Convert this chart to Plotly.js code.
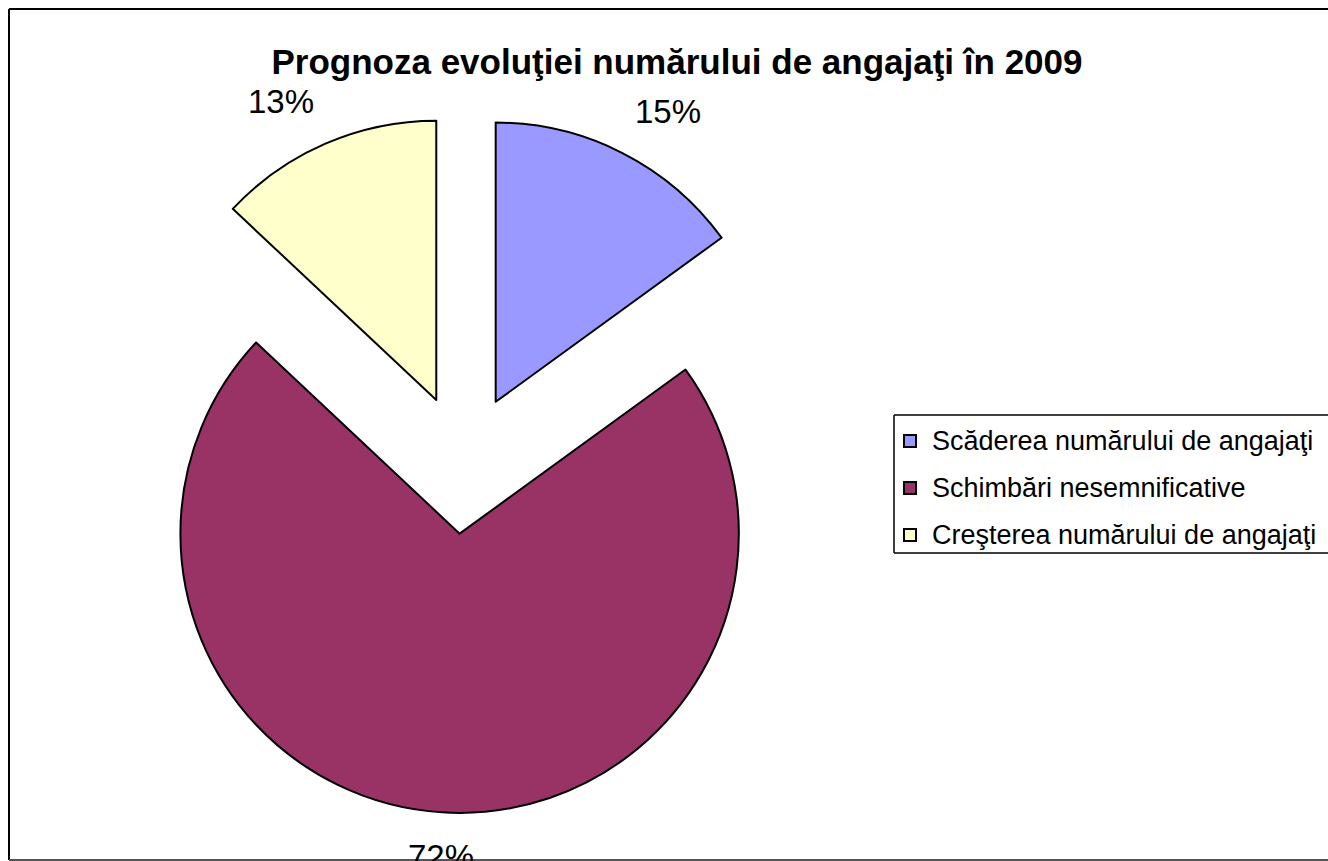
<!DOCTYPE html>
<html>
<head>
<meta charset="utf-8">
<script src="https://cdn.plot.ly/plotly-3.0.1.min.js"></script>
<style>html,body{margin:0;padding:0;background:#fff;overflow:hidden;}#chart{width:1328px;height:861px;}</style>
</head>
<body>
<div id="chart"></div>
<script>
const categories = ["Scăderea numărului de angajaţi", "Schimbări nesemnificative", "Creşterea numărului de angajaţi"];
const values = [15, 72, 13];
const colors = ["#9999FF", "#993366", "#FFFFCC"];
const chartTitle = "Prognoza evoluţiei numărului de angajaţi în 2009";

const W = 1328, H = 861;
const px = v => v / W;
const py = v => 1 - v / H;
const FONT = "Liberation Sans, Arial, sans-serif";

// pie geometry (pixels)
const dom = {x0: 115, x1: 813, y0: 115, y1: 813};
const pull = 0.25;
const R = Math.min(dom.x1 - dom.x0, dom.y1 - dom.y0) / (2 + 2 * pull);
const C = {x: (dom.x0 + dom.x1) / 2, y: (dom.y0 + dom.y1) / 2};
const labelGap = 24;

function seg(x0, y0, x1, y1, color, width) {
  return {type: "line", xref: "paper", yref: "paper", x0: px(x0), y0: py(y0), x1: px(x1), y1: py(y1),
    line: {color: color, width: width}, layer: "above"};
}

const shapes = [
  // outer chart frame (right side falls outside the visible area)
  seg(9, 9, 1340, 9, "#000", 2),
  seg(9, 9, 9, 860, "#000", 2),
  seg(9, 860, 1340, 860, "#555", 2),
  // legend box (cut at the right edge)
  seg(894, 415, 1340, 415, "#000", 1.5),
  seg(894, 415, 894, 553, "#000", 1.5),
  seg(894, 553, 1340, 553, "#000", 1.5)
];
const annotations = [];
const rowY = [441, 488, 535];
categories.forEach((c, i) => {
  shapes.push({type: "rect", xref: "paper", yref: "paper",
    x0: px(904), x1: px(916), y0: py(rowY[i] + 6), y1: py(rowY[i] - 6),
    line: {color: "#000", width: 2}, fillcolor: colors[i]});
  annotations.push({text: c, xref: "paper", yref: "paper", x: px(930), y: py(rowY[i]),
    xanchor: "left", yanchor: "middle", showarrow: false,
    font: {family: FONT, size: 27, color: "#000"}});
});

// percentage labels placed outside each slice, derived from the values
const total = values.reduce((a, b) => a + b, 0);
let cum = 0;
values.forEach((v, i) => {
  const mid = (cum + v / 2) / total * 2 * Math.PI;
  cum += v;
  const dx = Math.sin(mid), dy = -Math.cos(mid);
  const d = R * (1 + pull) + labelGap;
  const x = C.x + d * dx, y = C.y + d * dy;
  annotations.push({
    text: Math.round(v / total * 100) + "%",
    xref: "paper", yref: "paper", x: px(x), y: py(y),
    xanchor: Math.abs(dx) < 0.2 ? "center" : (dx > 0 ? "left" : "right"),
    yanchor: Math.abs(dy) < 0.2 ? "middle" : (dy > 0 ? "top" : "bottom"),
    showarrow: false, font: {family: FONT, size: 33, color: "#000"}
  });
});

const trace = {
  type: "pie",
  labels: categories,
  values: values,
  sort: false,
  direction: "clockwise",
  rotation: 0,
  pull: values.map(() => pull),
  marker: {colors: colors, line: {color: "#000", width: 2}},
  textinfo: "none",
  domain: {x: [px(dom.x0), px(dom.x1)], y: [py(dom.y1), py(dom.y0)]},
  showlegend: false,
  hoverinfo: "label+percent"
};

const layout = {
  width: W, height: H,
  margin: {l: 0, r: 0, t: 0, b: 0},
  paper_bgcolor: "#fff",
  showlegend: false,
  title: {text: "<b>" + chartTitle + "</b>", x: px(677), xanchor: "center", y: py(62), yanchor: "middle",
    font: {family: FONT, size: 35, color: "#000"}},
  shapes: shapes,
  annotations: annotations
};

Plotly.newPlot("chart", [trace], layout, {displayModeBar: false, staticPlot: true});
</script>
</body>
</html>
